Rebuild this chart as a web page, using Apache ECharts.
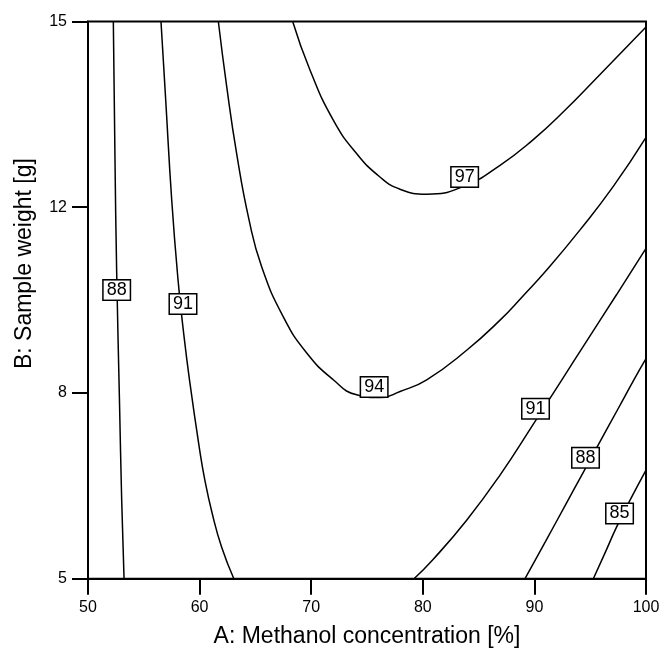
<!DOCTYPE html>
<html lang="en">
<head>
  <meta charset="UTF-8">
  <title>Contour</title>
  <style>
    html, body { margin: 0; padding: 0; background: #fff; }
  </style>
</head>
<body>
<div id="main" style="width: 661px;height:648px;"></div>
<script src="https://cdn.jsdelivr.net/npm/echarts@6/dist/echarts.min.js"></script>
<script type="text/javascript">
  // contour lines, [methanol %, sample weight g]
  const c88Left = [[52.27, 15], [52.42, 12.5], [52.57, 10.5], [52.82, 8.2], [53.02, 6.4], [53.23, 5]]
  const c91Left = [[56.54, 15], [56.96, 13.6], [57.5, 11.8], [58.05, 10.4], [58.54, 9.46], [59.1, 8.56],
    [59.96, 7.37], [60.47, 6.77], [61.13, 6.17], [61.97, 5.57], [63.07, 5]]
  const c94 = [[61.68, 15], [62.43, 13.83], [63.32, 12.63], [64.43, 11.44], [65.56, 10.6], [67.5, 9.7],
    [69.6, 9.05], [71.98, 8.57], [74.07, 8.3], [76.2, 8.25], [77.96, 8.36], [80.35, 8.57], [83.93, 9.1],
    [86.92, 9.64], [89.0, 10.08], [91.1, 10.54], [94.09, 11.26], [97.07, 12.04], [100, 12.92]]
  const c97 = [[68.34, 15], [69.89, 14.13], [71.98, 13.23], [74.07, 12.63], [76.16, 12.21], [77.96, 11.99],
    [80.35, 11.9], [83.63, 12.04], [86.92, 12.42], [89.9, 12.88], [92.6, 13.38], [95.88, 14.05], [100, 14.9]]
  const c91Right = [[79.21, 5], [80.94, 5.35], [83.93, 6.05], [86.92, 6.86], [90.05, 7.82], [92.59, 8.61],
    [94.38, 9.17], [97.37, 10.1], [100, 10.93]]
  const c88Right = [[89.16, 5], [91.0, 5.67], [92.8, 6.33], [94.38, 6.91], [95.88, 7.46], [97.5, 8.05],
    [99.0, 8.6], [100, 8.95]]
  const c85 = [[95.28, 5], [96.3, 5.45], [97.37, 5.93], [98.57, 6.41], [100, 6.95]]

  const contours = [c88Left, c91Left, c94, c97, c91Right, c88Right, c85]

  // boxed level labels: [x, y, level]
  const levelLabels = [[52.57, 10.18, 88], [58.51, 9.93, 91], [75.64, 8.44, 94], [83.75, 12.21, 97],
    [90.1, 8.05, 91], [94.58, 7.17, 88], [97.63, 6.17, 85]]

  const yTicks = [5, 8.333, 11.667, 15]

  const font = 'Liberation Sans, Arial, sans-serif'
  const Chart = echarts.init(document.getElementById('main'))

  const lineSeries = contours.map((pts) => {
    return {
      type: 'line',
      data: pts,
      smooth: 0.5,
      symbol: 'none',
      lineStyle: { color: '#000', width: 1.5 },
      silent: true,
      z: 2
    }
  })

  const option = {
    animation: false,
    grid: {
      left: 88,
      right: 15,
      top: 21.5,
      bottom: 69.3,
      outerBoundsMode: 'none',
      containLabel: false,
      show: true,
      borderColor: '#000',
      borderWidth: 2
    },
    xAxis: {
      type: 'value',
      min: 50,
      max: 100,
      interval: 10,
      name: 'A: Methanol concentration [%]',
      nameLocation: 'middle',
      nameGap: 46,
      nameTextStyle: { fontFamily: font, fontSize: 23, color: '#000' },
      axisLine: { show: true, lineStyle: { color: '#000', width: 2 } },
      axisTick: { show: true, length: 16, lineStyle: { color: '#000', width: 2 } },
      axisLabel: { margin: 21, fontFamily: font, fontSize: 16, color: '#000' },
      splitLine: { show: false }
    },
    yAxis: {
      type: 'value',
      min: 5,
      max: 15,
      name: 'B: Sample weight [g]',
      nameLocation: 'middle',
      nameGap: 52,
      nameTextStyle: { fontFamily: font, fontSize: 23, color: '#000', padding: [0, 0, 0, 73] },
      axisLine: { show: true, lineStyle: { color: '#000', width: 2 } },
      axisTick: { show: true, length: 16, customValues: yTicks, lineStyle: { color: '#000', width: 2 } },
      axisLabel: {
        margin: 21,
        customValues: yTicks,
        fontFamily: font,
        fontSize: 16,
        color: '#000',
        formatter: (v) => String(Math.round(v))
      },
      splitLine: { show: false }
    },
    series: lineSeries.concat([{
      type: 'scatter',
      data: levelLabels,
      symbolSize: 0,
      silent: true,
      z: 5,
      itemStyle: { opacity: 1 },
      label: {
        show: true,
        position: 'inside',
        formatter: (p) => String(p.value[2]),
        fontFamily: font,
        fontSize: 18,
        lineHeight: 18,
        color: '#000',
        backgroundColor: '#fff',
        borderColor: '#000',
        borderWidth: 1.5,
        padding: [1, 3, 0, 3]
      }
    }])
  }

  Chart.setOption(option)
</script>
</body>
</html>
